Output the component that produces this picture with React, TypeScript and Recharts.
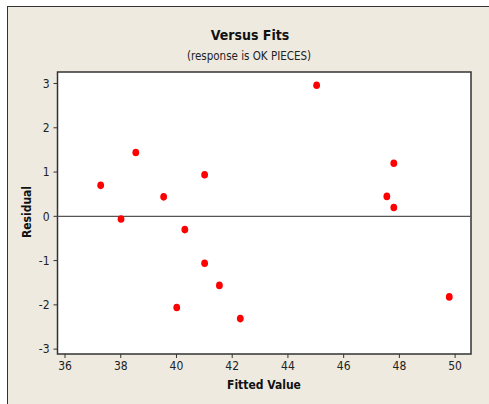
import React from 'react';
import {
  ScatterChart,
  Scatter,
  XAxis,
  YAxis,
  ReferenceArea,
  ReferenceLine,
} from 'recharts';

// fitted values and residuals
const fitted = [37.28, 38.01, 38.54, 39.54, 40.01, 40.30, 41.01, 41.01, 41.54, 42.29, 45.03, 47.55, 47.80, 47.80, 49.79];
const residual = [0.70, -0.06, 1.44, 0.44, -2.06, -0.30, 0.94, -1.06, -1.56, -2.31, 2.96, 0.45, 1.20, 0.20, -1.82];

const xTicks = [36, 38, 40, 42, 44, 46, 48, 50];
const yTicks = [-3, -2, -1, 0, 1, 2, 3];

const X_DOMAIN: [number, number] = [35.73, 50.57];
const Y_DOMAIN: [number, number] = [-3.11, 3.26];

const FONT = '"Liberation Sans Narrow", "DejaVu Sans Condensed", sans-serif';
const BG = '#EEEAE0';

const data = fitted.map((x, i) => ({ x, y: residual[i] }));

const Dot = (props: any) => {
  const { cx, cy } = props;
  return <ellipse cx={cx} cy={cy} rx={3.4} ry={3.8} fill="#FF0000" />;
};

const tickStyle = { fill: '#222', fontSize: 12, fontFamily: FONT };

export default function App() {
  return (
    <div style={{ position: 'absolute', left: 0, top: 0, width: 489, height: 404, background: '#fff' }}>
      {/* outer frame */}
      <div
        style={{
          position: 'absolute',
          left: 7,
          top: 6,
          width: 482,
          height: 398,
          background: BG,
          borderLeft: '1px solid #333',
          borderTop: '1px solid #333',
          boxSizing: 'border-box',
        }}
      />
      <div style={{ position: 'absolute', left: 0, top: 0 }}>
        <ScatterChart
          width={489}
          height={404}
          margin={{ top: 72, right: 18, bottom: 0, left: 0 }}
        >
          <XAxis
            type="number"
            dataKey="x"
            domain={X_DOMAIN}
            ticks={xTicks}
            allowDataOverflow
            height={50}
            tick={tickStyle}
            tickSize={4}
            tickMargin={3}
            stroke="#333"
            axisLine={false}
            tickLine={{ stroke: '#333' }}
          />
          <YAxis
            type="number"
            dataKey="y"
            domain={Y_DOMAIN}
            ticks={yTicks}
            allowDataOverflow
            width={57.5}
            tick={tickStyle}
            tickSize={4}
            tickMargin={4}
            axisLine={false}
            tickLine={{ stroke: '#333' }}
          />
          <ReferenceArea
            x1={X_DOMAIN[0]}
            x2={X_DOMAIN[1]}
            y1={Y_DOMAIN[0]}
            y2={Y_DOMAIN[1]}
            fill="#fff"
            fillOpacity={1}
            stroke="#333"
            strokeWidth={1.5}
            ifOverflow="visible"
          />
          <ReferenceLine y={0} stroke="#555" strokeWidth={1.2} />
          <Scatter data={data} shape={<Dot />} isAnimationActive={false} />
          <text x={250} y={40} textAnchor="middle" fontFamily={FONT} fontWeight="bold" fontSize={14} fill="#111">
            Versus Fits
          </text>
          <text x={249} y={60} textAnchor="middle" fontFamily={FONT} fontSize={11.5} fill="#222">
            (response is OK PIECES)
          </text>
          <text x={264} y={389} textAnchor="middle" fontFamily={FONT} fontWeight="bold" fontSize={12} fill="#111">
            Fitted Value
          </text>
          <text
            x={31}
            y={212}
            textAnchor="middle"
            fontFamily={FONT}
            fontWeight="bold"
            fontSize={12}
            fill="#111"
            transform="rotate(-90 31 212)"
          >
            Residual
          </text>
        </ScatterChart>
      </div>
    </div>
  );
}
